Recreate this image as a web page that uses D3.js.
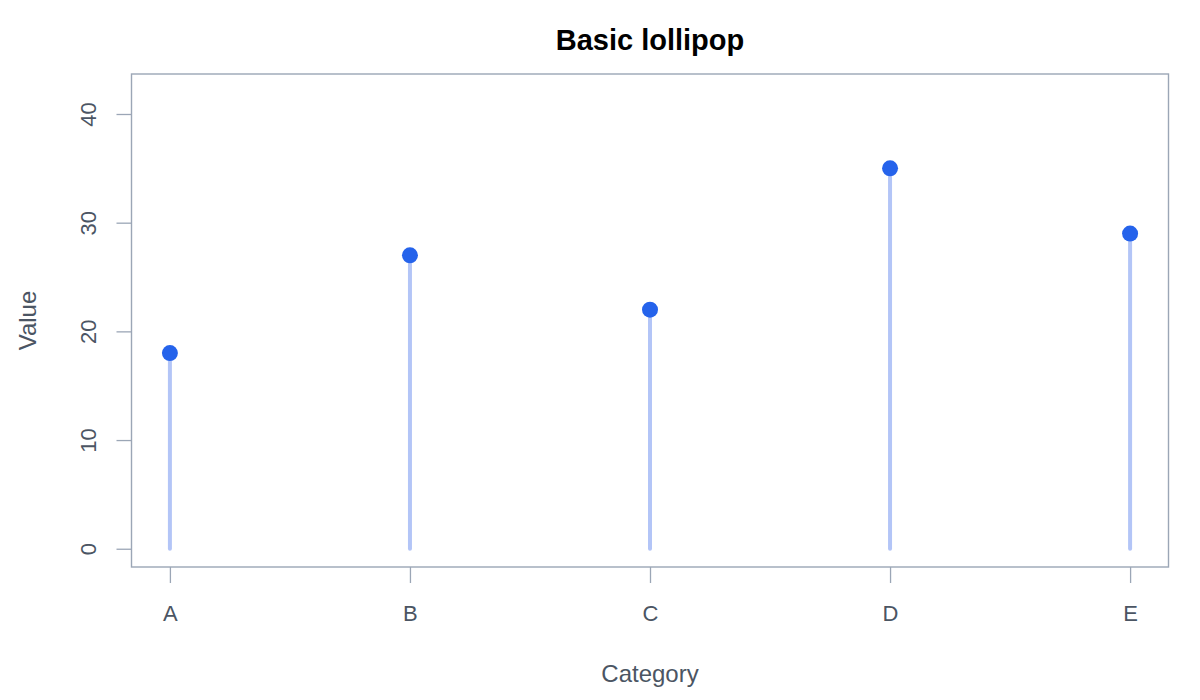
<!DOCTYPE html>
<html>
<head>
<meta charset="utf-8">
<script src="https://cdn.jsdelivr.net/npm/d3@7"></script>
<style>
  body { margin: 0; background: #fff; }
  svg { font-family: "Liberation Sans", Arial, sans-serif; }
</style>
</head>
<body>
<svg width="1200" height="700"></svg>
<script>
const svg_ = d3.select('svg');

const W = 1200;
const H = 700;

// data
const categories = ["A", "B", "C", "D", "E"];
const values = [18, 27, 22, 35, 29];
const y_ticks = [0, 10, 20, 30, 40];

const MARGINS = { TOP: 74, LEFT: 131.5, RIGHT: 31.5, BOTTOM: 133 };

const AXIS_COL = "#9ba6b6";
const TEXT_COL = "#4b5563";

// R-style domains with 4% padding
const x = d3.scaleLinear()
    .domain([0.84, 5.16])
    .range([MARGINS.LEFT, W - MARGINS.RIGHT]);

const y_max = d3.max(values) * 1.2;
const y = d3.scaleLinear()
    .domain([-0.04 * y_max, y_max * 1.04])
    .range([H - MARGINS.BOTTOM, MARGINS.TOP]);

// box
svg_.append("rect")
    .attr("x", MARGINS.LEFT)
    .attr("y", MARGINS.TOP)
    .attr("width", W - MARGINS.RIGHT - MARGINS.LEFT)
    .attr("height", H - MARGINS.BOTTOM - MARGINS.TOP)
    .attr("fill", "none")
    .attr("stroke", AXIS_COL)
    .attr("stroke-width", 1.4);

// x axis
const x_axis = svg_.append("g")
    .attr("transform", `translate(0,${H - MARGINS.BOTTOM})`)
    .call(d3.axisBottom(x)
        .tickValues(d3.range(1, categories.length + 1))
        .tickFormat(i => categories[i - 1])
        .tickSize(16)
        .tickPadding(22));

x_axis.select(".domain").remove();
x_axis.selectAll("line").attr("stroke", AXIS_COL).attr("stroke-width", 1.3);
x_axis.selectAll("text").attr("fill", TEXT_COL).attr("font-size", 22)
    .attr("font-family", "Liberation Sans, Arial, sans-serif");

// y axis
const y_axis = svg_.append("g")
    .attr("transform", `translate(${MARGINS.LEFT},0)`)
    .call(d3.axisLeft(y)
        .tickValues(y_ticks)
        .tickSize(15)
        .tickPadding(0));

y_axis.select(".domain").remove();
y_axis.selectAll("line").attr("stroke", AXIS_COL).attr("stroke-width", 1.3);
y_axis.selectAll("text")
    .attr("fill", TEXT_COL)
    .attr("font-size", 22)
    .attr("font-family", "Liberation Sans, Arial, sans-serif")
    .attr("text-anchor", "middle")
    .attr("x", null)
    .attr("dy", null)
    .attr("transform", "translate(-43,0) rotate(-90)")
    .attr("dominant-baseline", "central");

// stems
svg_.append("g")
    .selectAll("line")
    .data(values)
    .join("line")
    .attr("x1", (d, i) => x(i + 1))
    .attr("x2", (d, i) => x(i + 1))
    .attr("y1", y(0))
    .attr("y2", d => y(d))
    .attr("stroke", "#b3c5f7")
    .attr("stroke-width", 4)
    .attr("stroke-linecap", "round");

// heads
svg_.append("g")
    .selectAll("circle")
    .data(values)
    .join("circle")
    .attr("cx", (d, i) => x(i + 1))
    .attr("cy", d => y(d))
    .attr("r", 8)
    .attr("fill", "#2563eb");

// titles
svg_.append("text")
    .attr("x", 650)
    .attr("y", 50)
    .attr("text-anchor", "middle")
    .attr("font-size", 29)
    .attr("font-weight", "bold")
    .attr("fill", "#000")
    .text("Basic lollipop");

svg_.append("text")
    .attr("x", 650)
    .attr("y", 682)
    .attr("text-anchor", "middle")
    .attr("font-size", 24)
    .attr("fill", TEXT_COL)
    .text("Category");

svg_.append("text")
    .attr("transform", `translate(36,${MARGINS.TOP + (H - MARGINS.BOTTOM - MARGINS.TOP) / 2}) rotate(-90)`)
    .attr("text-anchor", "middle")
    .attr("font-size", 24)
    .attr("fill", TEXT_COL)
    .text("Value");
</script>
</body>
</html>
